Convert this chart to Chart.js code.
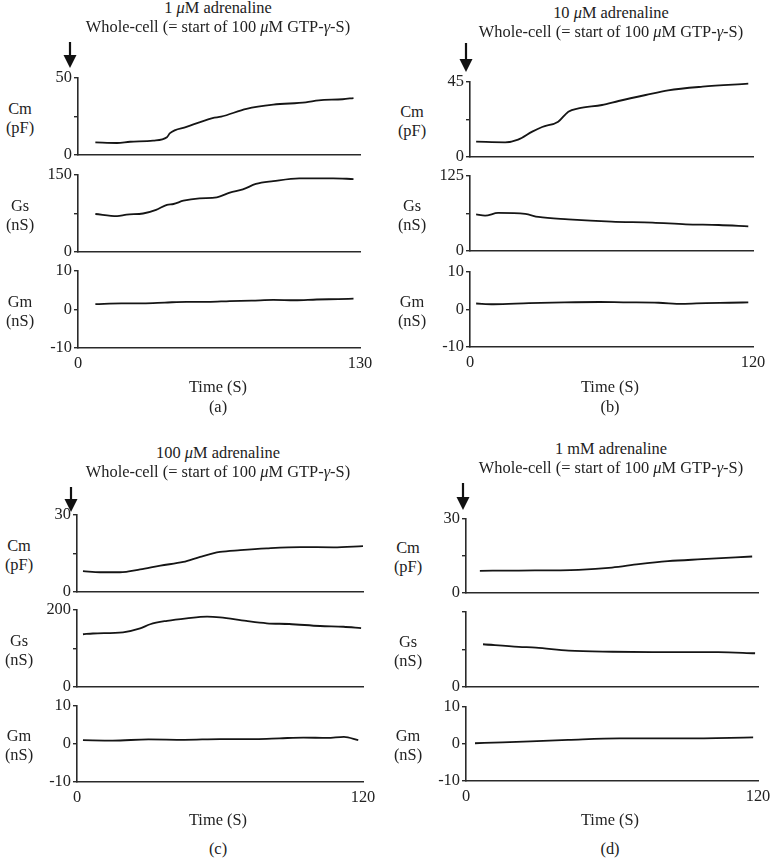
<!DOCTYPE html>
<html>
<head>
<meta charset="utf-8">
<script src="https://cdn.jsdelivr.net/npm/chart.js@4"></script>
<style>
  body { margin: 0; background: #fff; }
  #fig { position: relative; width: 770px; height: 859px; background: #fff; font-family: 'Liberation Serif', 'Times New Roman', serif; color: #222; }
  #fig canvas { position: absolute; }
  .txt { position: absolute; transform: translate(-50%, -50%); white-space: nowrap; font-size: 16.4px; line-height: 19px; text-align: center; }
</style>
</head>
<body>
<div id="fig"></div>
<script>
// panel titles (concentration of adrenaline)
const titles = ['1 <i>μ</i>M adrenaline', '10 <i>μ</i>M adrenaline', '100 <i>μ</i>M adrenaline', '1 mM adrenaline']
const subtitle = 'Whole-cell (= start of 100 <i>μ</i>M GTP-<i>γ</i>-S)'
const panelLetters = ['(a)', '(b)', '(c)', '(d)']
const xMaxes = [130, 120, 120, 120]

// y axis ranges per panel: Cm, Gs, Gm
const cmMax = [50, 45, 30, 30]
const gsMax = [150, 125, 200, 200]
const gsTopLabel = ['150', '125', '200', '']
const gmRange = [-10, 10]

// (a) 1 uM
const tCmA = [8, 18, 24, 34.6, 41, 42.4, 50, 62, 66, 77.7, 90, 105, 111, 122, 127]
const cmA = [8.2, 7.8, 8.6, 9.3, 11.5, 14.2, 18.2, 24, 24.9, 30, 32.7, 34.2, 35.5, 36.2, 37]
const tGsA = [8, 18, 22.4, 30, 36, 41, 44, 48.6, 56, 64, 70, 76, 82, 90, 102, 117.6, 127]
const gsA = [74, 70, 73, 75, 82, 92, 93.5, 100, 104.6, 106.5, 115.6, 122, 132.5, 138, 143.6, 143.6, 142]
const tGmA = [8, 20, 30, 40, 50, 60, 70, 80, 90, 100, 110, 120, 127]
const gmA = [1.4, 1.6, 1.6, 1.8, 2.0, 2.0, 2.2, 2.3, 2.5, 2.4, 2.6, 2.7, 2.8]

// (b) 10 uM
const tCmB = [2.6, 14.9, 20.4, 26.4, 30.6, 37.4, 41.7, 46, 56, 63, 74.5, 84, 98.6, 118]
const cmB = [9.2, 8.8, 10.4, 15.2, 18, 21.2, 27.2, 29.2, 31.2, 33.6, 37.2, 40, 42.2, 44]
const tGsB = [2.6, 6.4, 11.9, 23.4, 29, 41.7, 60, 77.4, 91.5, 105.5, 118]
const gsB = [61, 59, 63.4, 61.7, 56.7, 52.8, 49, 47.3, 44.5, 43.3, 41]
const tGmB = [2.6, 10, 25, 40, 55, 65, 80, 90, 100, 110, 118]
const gmB = [1.6, 1.4, 1.7, 1.9, 2.0, 1.9, 1.8, 1.5, 1.7, 1.8, 1.9]

// (c) 100 uM
const tCmC = [2.5, 9.7, 18, 26.5, 35, 44.6, 51.7, 60, 68.5, 79.6, 93.7, 107.6, 120]
const cmC = [8.1, 7.7, 7.7, 8.8, 10.3, 11.7, 13.7, 15.6, 16.3, 17, 17.5, 17.4, 17.9]
const tGsC = [2.5, 6.7, 19.3, 26.5, 30.7, 37.8, 46, 54.6, 60, 71, 79.6, 89, 102, 111.8, 119.2]
const gsC = [137, 139, 142, 152, 163, 172, 178.5, 183, 181, 171.5, 165.5, 163.6, 158.4, 156.5, 153]
const tGmC = [2.5, 15, 30, 45, 60, 75, 85, 95, 105, 112, 118]
const gmC = [1.0, 0.9, 1.2, 1.1, 1.3, 1.3, 1.5, 1.7, 1.6, 1.9, 1.0]

// (d) 1 mM
const tCmD = [5.7, 21.7, 46.3, 60, 71, 83, 97, 117.6]
const cmD = [9.0, 9.1, 9.4, 10.3, 11.7, 12.9, 13.7, 14.8]
const tGsD = [7, 21.7, 28.7, 42.2, 60.2, 76.6, 90, 103.7, 118.8]
const gsD = [114, 107, 105, 97, 94, 93, 93, 93, 90]
const tGmD = [3.7, 15, 42, 63, 90, 118]
const gmD = [0.2, 0.45, 1.1, 1.5, 1.5, 1.8]

// arrow (start of whole-cell) time position, per panel
const arrowT = [-3.7, -1.7, -2.6, -1.2]

const FONT = "'Liberation Serif', 'Times New Roman', serif"
const fig = document.getElementById('fig')

// plot boxes (chart area) per panel: left, right, and top/bottom of Cm, Gs, Gm
const boxes = [
  { L: 78, R: 360, cm: [78, 155], gs: [175, 252], gm: [271, 348], title: [218, 7, 26], time: [218, 386], letter: [218, 406] },
  { L: 470, R: 753, cm: [82, 157], gs: [176, 251], gm: [272, 347], title: [611, 12, 31], time: [610, 386], letter: [610, 406] },
  { L: 77, R: 363, cm: [515, 592], gs: [610, 687], gm: [706, 782], title: [218, 452, 471], time: [218, 819], letter: [218, 848] },
  { L: 466, R: 758, cm: [519, 593], gs: [612, 687], gm: [707, 781], title: [611, 448, 467], time: [610, 819], letter: [610, 848] }
]
// arrow top / tip distance above the Cm plot top
const arrowOffsets = [[36, 10], [39, 10], [28, 3], [36, 9]]

function addText(html, x, y) {
  const d = document.createElement('div')
  d.className = 'txt'
  d.innerHTML = html
  d.style.left = x + 'px'
  d.style.top = y + 'px'
  fig.appendChild(d)
}

// draws the downward arrow marking whole-cell start
const arrowPlugin = {
  id: 'startArrow',
  afterDraw(chart) {
    const o = chart.options.plugins.startArrow
    if (!o || typeof o.t !== 'number') return
    const ctx = chart.ctx
    const x = Math.round(chart.scales.x.getPixelForValue(o.t))
    const y0 = chart.chartArea.top - o.from, y1 = chart.chartArea.top - o.to
    ctx.save()
    ctx.strokeStyle = '#111'
    ctx.fillStyle = '#111'
    ctx.lineWidth = 2.2
    ctx.beginPath()
    ctx.moveTo(x, y0)
    ctx.lineTo(x, y1 - 10)
    ctx.stroke()
    ctx.beginPath()
    ctx.moveTo(x - 6.5, y1 - 13)
    ctx.lineTo(x + 6.5, y1 - 13)
    ctx.lineTo(x, y1)
    ctx.closePath()
    ctx.fill()
    ctx.restore()
  }
}

function makePlot(box, rng, xMax, yMin, yMax, yTicks, labelFor, t, v, isBottom, arrow) {
  const padTop = arrow ? 46 : 12
  const yW = 40, padR = 16
  const xH = isBottom ? 26 : 0
  const padB = isBottom ? 0 : 12
  const c = document.createElement('canvas')
  const w = yW + (box.R - box.L) + padR
  const h = padTop + (rng[1] - rng[0]) + xH + padB
  c.width = w; c.height = h
  c.style.left = (box.L - yW) + 'px'
  c.style.top = (rng[0] - padTop) + 'px'
  fig.appendChild(c)

  const pts = t.map((tt, i) => ({ x: tt, y: v[i] }))
  const chart = new Chart(c, {
    type: 'line',
    data: { datasets: [{ data: pts, borderColor: '#151515', borderWidth: 1.8, pointRadius: 0, cubicInterpolationMode: 'monotone', fill: false }] },
    options: {
      responsive: false,
      maintainAspectRatio: false,
      animation: false,
      layout: { padding: { top: padTop, right: padR, bottom: padB, left: 0 } },
      plugins: {
        legend: { display: false },
        tooltip: { enabled: false },
        startArrow: arrow || {}
      },
      scales: {
        x: {
          type: 'linear', min: 0, max: xMax,
          afterBuildTicks: s => { s.ticks = [{ value: 0 }, { value: xMax }] },
          afterFit: s => { s.height = xH },
          border: { display: true, color: '#2a2a2a', width: 1.6 },
          grid: { display: false, drawTicks: false },
          ticks: { display: isBottom, padding: 6, maxRotation: 0, color: '#222', font: { family: FONT, size: 16.4 } }
        },
        y: {
          min: yMin, max: yMax,
          afterBuildTicks: s => { s.ticks = yTicks.map(val => ({ value: val })) },
          afterFit: s => { s.width = yW },
          border: { display: true, color: '#2a2a2a', width: 1.6 },
          grid: { drawOnChartArea: false, drawTicks: true, tickLength: 4, color: '#2a2a2a', lineWidth: 1.4 },
          ticks: { padding: 2, color: '#222', font: { family: FONT, size: 16.4 }, callback: val => labelFor(val) }
        }
      }
    },
    plugins: [arrowPlugin]
  })

  // make the plot area land exactly on the measured box
  const ca = chart.chartArea
  const nw = w + (box.R - box.L) - (ca.right - ca.left)
  const nh = h + (rng[1] - rng[0]) - (ca.bottom - ca.top)
  chart.resize(nw, nh)
  const ca2 = chart.chartArea
  c.style.left = (box.L - ca2.left) + 'px'
  c.style.top = (rng[0] - ca2.top) + 'px'
}

const cmSeries = [[tCmA, cmA], [tCmB, cmB], [tCmC, cmC], [tCmD, cmD]]
const gsSeries = [[tGsA, gsA], [tGsB, gsB], [tGsC, gsC], [tGsD, gsD]]
const gmSeries = [[tGmA, gmA], [tGmB, gmB], [tGmC, gmC], [tGmD, gmD]]

boxes.forEach((b, i) => {
  // Cm
  makePlot(b, b.cm, xMaxes[i], 0, cmMax[i], [0, cmMax[i] / 2, cmMax[i]],
    val => (val === 0 || val === cmMax[i]) ? String(val) : '',
    cmSeries[i][0], cmSeries[i][1], false,
    { t: arrowT[i], from: arrowOffsets[i][0], to: arrowOffsets[i][1] })
  // Gs
  makePlot(b, b.gs, xMaxes[i], 0, gsMax[i], [0, gsMax[i] / 2, gsMax[i]],
    val => val === 0 ? '0' : (val === gsMax[i] ? gsTopLabel[i] : ''),
    gsSeries[i][0], gsSeries[i][1], false, null)
  // Gm
  makePlot(b, b.gm, xMaxes[i], gmRange[0], gmRange[1], [-10, 0, 10],
    val => String(val), gmSeries[i][0], gmSeries[i][1], true, null)

  addText(titles[i], b.title[0], b.title[1])
  addText(subtitle, b.title[0], b.title[2])
  addText('Cm<br>(pF)', b.L - 58, (b.cm[0] + b.cm[1]) / 2 + 1)
  addText('Gs<br>(nS)', b.L - 58, (b.gs[0] + b.gs[1]) / 2 + 1)
  addText('Gm<br>(nS)', b.L - 58, (b.gm[0] + b.gm[1]) / 2 + 1)
  addText('Time (S)', b.time[0], b.time[1])
  addText(panelLetters[i], b.letter[0], b.letter[1])
})
</script>
</body>
</html>
